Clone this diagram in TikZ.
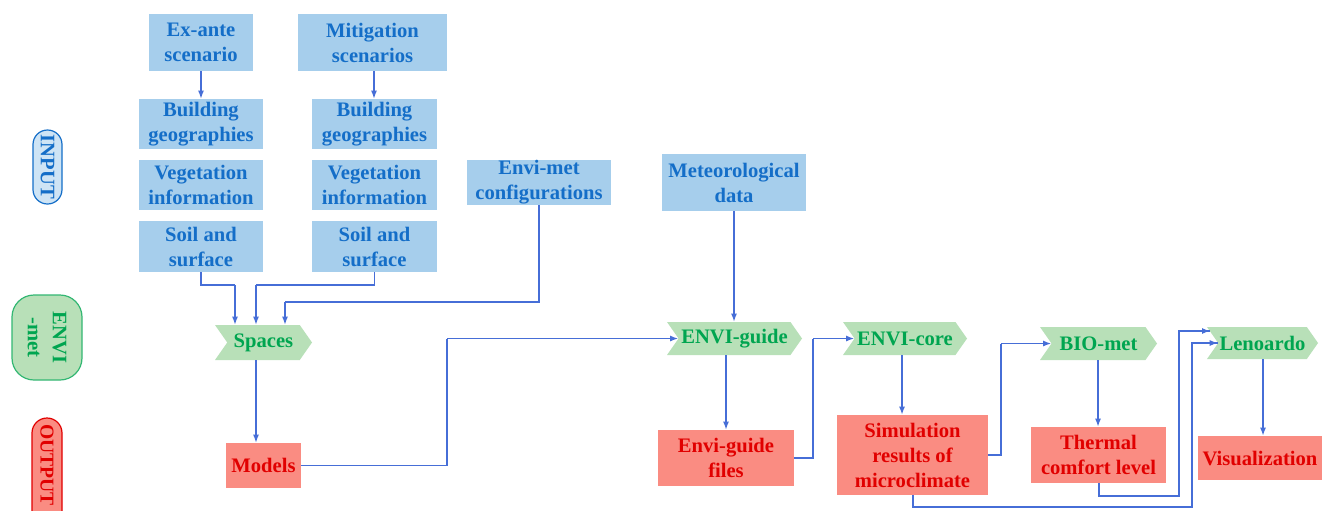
\documentclass[tikz,border=0pt]{standalone}
\usepackage{fontspec}
\setmainfont{Liberation Serif}
\usetikzlibrary{shapes.symbols,shapes.misc,arrows.meta}
\definecolor{blueF}{RGB}{166,206,236}
\definecolor{blueT}{RGB}{20,110,200}
\definecolor{greenF}{RGB}{184,224,184}
\definecolor{greenT}{RGB}{0,165,80}
\definecolor{redF}{RGB}{250,140,130}
\definecolor{redT}{RGB}{225,0,0}
\definecolor{arrC}{RGB}{70,110,215}
\begin{document}
\begin{tikzpicture}[x=0.5pt,y=-0.5pt,
  sz/.style 2 args={minimum width=#1*0.5pt, minimum height=#2*0.5pt},
  base/.style={inner sep=0pt, align=center, font=\fontsize{10.3}{12.5}\selectfont\bfseries},
  inbox/.style={base, rectangle, fill=blueF, text=blueT},
  chev/.style={base, signal, signal to=east, signal from=west, signal pointer angle=110, fill=greenF, text=greenT},
  outbox/.style={base, rectangle, fill=redF, text=redT},
  arr/.style={draw=arrC, line width=0.6pt, -{Latex[length=4pt,width=3pt]}},
  ln/.style={draw=arrC, line width=0.6pt}]
\useasboundingbox[fill=white] (0,0) rectangle (1331,510);

% side labels
\node[base, rounded rectangle, draw=blueT, line width=0.6pt, fill=blueF!55, text=blueT, sz={74}{29}, rotate=-90] (lin) at (47.5,167) {INPUT};
\node[base, rectangle, rounded corners=11pt, draw=greenT!80, line width=0.6pt, fill=greenF, text=greenT, sz={85}{70}, rotate=-90] (lenvi) at (47,337.5) {ENVI\\-met};
\node[base, rounded rectangle, draw=redT, line width=0.6pt, fill=redF, sz={112}{30}, rotate=-90] (loutbg) at (47,474) {};
\node[base, text=redT, font=\fontsize{9.8}{12}\selectfont\bfseries, rotate=-90] (lout) at (47,465) {OUTPUT};

% input boxes
\node[inbox, sz={104}{57}] (exante) at (201,42.5) {Ex-ante\\scenario};
\node[inbox, sz={149}{57}] (mitig) at (372.5,42.5) {Mitigation\\scenarios};
\node[inbox, sz={124}{50}] (bgL) at (201,124) {Building\\geographies};
\node[inbox, sz={124}{50}] (vegL) at (201,185) {Vegetation\\information};
\node[inbox, sz={124}{51}] (soilL) at (201,246.5) {Soil and\\surface};
\node[inbox, sz={125}{50}] (bgR) at (374.5,124) {Building\\geographies};
\node[inbox, sz={125}{50}] (vegR) at (374.5,185) {Vegetation\\information};
\node[inbox, sz={125}{51}] (soilR) at (374.5,246.5) {Soil and\\surface};
\node[inbox, sz={144}{45}] (config) at (539,182.5) {Envi-met\\configurations};
\node[inbox, sz={144}{57}] (meteo) at (734,182.5) {Meteorological\\data};

% ENVI-met modules
\node[chev, sz={97}{35}] (spaces) at (263.5,342.5) {Spaces};
\node[chev, sz={135}{33}] (guide) at (734.5,338.5) {ENVI-guide};
\node[chev, sz={124}{33}] (core) at (905,338.5) {ENVI-core};
\node[chev, sz={117}{33}] (bio) at (1098.5,343.5) {BIO-met};
\node[chev, sz={111}{32}] (leno) at (1262.5,343) {Lenoardo};

% outputs
\node[outbox, sz={75}{45}] (models) at (263.5,465.5) {Models};
\node[outbox, sz={136}{56}] (gfiles) at (726,458) {Envi-guide\\files};
\node[outbox, sz={151}{80}] (sim) at (912.5,455) {Simulation\\results of\\microclimate};
\node[outbox, sz={135}{56}] (thermal) at (1098.5,455) {Thermal\\comfort level};
\node[outbox, sz={124}{44}] (vis) at (1260,458) {Visualization};

% connectors
\draw[arr] (exante.south) -- (bgL.north);
\draw[arr] (374,71) coordinate (mS) -- (mS |- bgR.north);
\draw[ln] (soilL.south) |- (235,285) coordinate (jL);
\draw[arr] (jL) -- (jL |- spaces.north);
\draw[ln] (soilR.south) |- (256,285) coordinate (jR);
\draw[arr] (jR) -- (jR |- spaces.north);
\draw[ln] (config.south) |- (285,302) coordinate (jC);
\draw[arr] (jC) -- (jC |- spaces.north);
\coordinate (sS) at (256,360);
\draw[arr] (sS) -- (sS |- models.north);
\draw[ln] (models.east) -| (447,338.5) coordinate (jM);
\draw[arr] (jM) -- (guide.west);
\draw[arr] (meteo.south) -- (meteo.south |- guide.north);
\coordinate (gS) at (726,355);
\draw[arr] (gS) -- (gS |- gfiles.north);
\draw[ln] (gfiles.east) -| (813,338.5) coordinate (jG);
\draw[arr] (jG) -- (core.west);
\coordinate (cS) at (902,355);
\draw[arr] (cS) -- (cS |- sim.north);
\draw[ln] (sim.east) -| (1001,343.5) coordinate (jS);
\draw[arr] (jS) -- (bio.west);
\coordinate (bS) at (1098,360);
\draw[arr] (bS) -- (bS |- thermal.north);
\coordinate (tS) at (1099,483);
\coordinate (lenoIn1) at (1210,331);
\draw[ln] (tS) |- (1179,496) |- (lenoIn1);
\draw[arr] (1200,331) -- (lenoIn1);
\coordinate (simS) at (913,495);
\draw[ln] (simS) |- (1192,507) |- (leno.west);
\draw[arr] (1205,343) -- (leno.west);
\coordinate (lS) at (1263,359);
\draw[arr] (lS) -- (lS |- vis.north);
\end{tikzpicture}
\end{document}
